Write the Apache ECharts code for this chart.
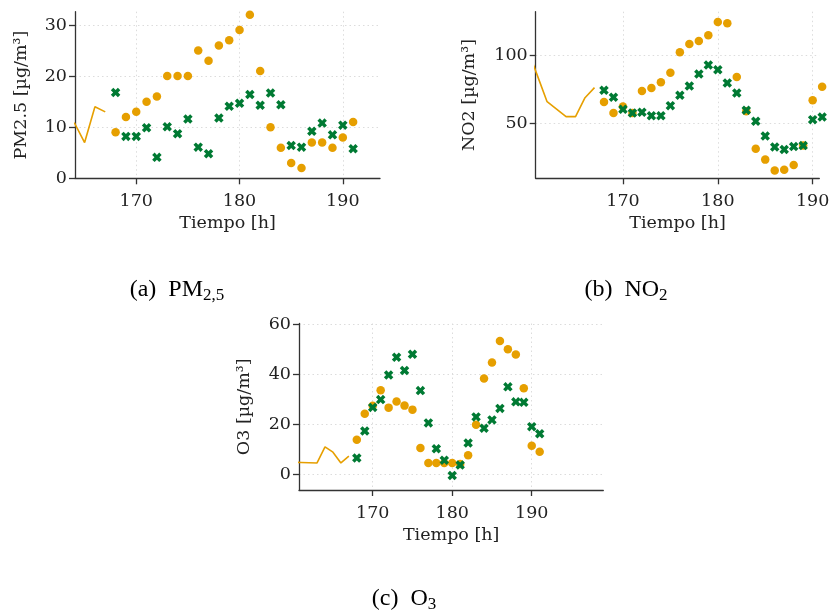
<!DOCTYPE html>
<html>
<head>
<meta charset="utf-8">
<script src="https://cdn.jsdelivr.net/npm/echarts@6/dist/echarts.min.js"></script>
<style>html,body{margin:0;padding:0;background:#fff;}#c{width:833px;height:611px;}</style>
</head>
<body>
<div id="c"></div>
<script>
// ---- Data ----
var hoursObs = [168,169,170,171,172,173,174,175,176,177,178,179,180,181,182,183,184,185,186,187,188,189,190,191];

// (a) PM2.5
var pmLineHours = [164,165,166,167];
var pmLine      = [10.9,7.0,14.0,13.0];
var pmOrange = [9,12,13,15,16,20,20,20,25,23,26,27,29,32,21,10,6,3,2,7,7,6,8,11];
var pmGreen  = [16.8,8.2,8.2,9.9,4.1,10.1,8.7,11.6,6.1,4.8,11.8,14.1,14.7,16.4,14.3,16.7,14.4,6.4,6.1,9.2,10.8,8.5,10.4,5.8];

// (b) NO2
var no2LineHours = [160,161,162,163,164,165,166,167];
var no2Line      = [103,84.6,66.0,60.6,55.1,55.1,68.9,76.2];
var no2Orange = [65.8,57.8,62.4,57.8,73.8,76.0,80.1,87.1,101.9,108.0,110.2,114.3,124.0,123.1,84.0,59.0,31.8,23.8,15.8,16.5,19.9,34.0,67.0,76.9];
var no2Green  = [74.3,69.2,60.4,57.8,58.3,55.8,55.8,63.1,70.6,77.4,86.2,92.7,89.3,79.6,72.3,59.7,51.7,41.0,33.0,31.1,33.3,34.0,52.9,54.9];

// (c) O3
var o3LineHours = [160,161,162,163,164,165,166,167];
var o3Line      = [4.8,4.7,4.6,4.5,10.9,8.8,4.5,7.2];
var o3Orange = [13.8,24.2,27.3,33.5,26.6,29.0,27.4,25.8,10.5,4.5,4.5,4.5,4.5,4.1,7.6,19.8,38.2,44.6,53.2,49.9,47.8,34.3,11.4,9.0];
var o3Green  = [6.5,17.3,26.7,29.8,39.6,46.7,41.4,47.9,33.4,20.5,10.2,5.6,-0.5,3.7,12.5,22.9,18.4,21.7,26.3,34.9,28.9,28.7,19.0,16.2];

var xTicks = [170,180,190];
var pmTicks = [0,10,20,30];
var no2Ticks = [50,100];
var o3Ticks = [0,20,40,60];

var xName = 'Tiempo [h]';
var yNames = ['PM2.5 [µg/m³]','NO2 [µg/m³]','O3 [µg/m³]'];

// ---- Styles ----
var ORANGE = '#E69F00';
var GREEN = '#007A33';
var FONT = 'DejaVu Serif';
var CROSS = 'path://M0,2.6 L2.6,0 L5,2.4 L7.4,0 L10,2.6 L7.6,5 L10,7.4 L7.4,10 L5,7.6 L2.6,10 L0,7.4 L2.4,5 Z';

function zip(xs, ys){ return xs.map(function(x,i){ return [x, ys[i]]; }); }

var grids = [
  {left:75, top:11.7, width:305, height:166.6},
  {left:535.7, top:11.7, width:283.6, height:166.6},
  {left:299, top:323.5, width:304.3, height:166.5}
];
var xRanges = [[164.07,193.6],[160.8,190.7],[160.73,199.0]];
var yRanges = [[0,32.6],[10.2,131.5],[-6.3,60.2]];
var yTicks = [pmTicks, no2Ticks, o3Ticks];
var yGaps = [45, 57, 46];

var axisLineStyle = {color:'#333', width:1.3};
var splitStyle = {show:true, lineStyle:{color:'#dcdcdc', type:[1.5,3], width:1}};

var xAxes = [], yAxes = [];
for (var i=0;i<3;i++){
  xAxes.push({
    type:'value', gridIndex:i, min:xRanges[i][0], max:xRanges[i][1],
    axisLine:{show:true, onZero:false, lineStyle:axisLineStyle},
    axisTick:{show:true, customValues:xTicks, length:6, lineStyle:axisLineStyle},
    axisLabel:{customValues:xTicks, margin:14, fontFamily:FONT, fontSize:17.5, color:'#222'},
    splitLine:splitStyle,
    name:xName, nameLocation:'middle', nameGap:36,
    nameTextStyle:{fontFamily:FONT, fontSize:17.5, color:'#222'}
  });
  yAxes.push({
    type:'value', gridIndex:i, min:yRanges[i][0], max:yRanges[i][1],
    axisLine:{show:true, onZero:false, lineStyle:axisLineStyle},
    axisTick:{show:true, customValues:yTicks[i], length:6, lineStyle:axisLineStyle},
    axisLabel:{customValues:yTicks[i], margin:8, fontFamily:FONT, fontSize:17.5, color:'#222'},
    splitLine:splitStyle,
    name:yNames[i], nameLocation:'middle', nameGap:yGaps[i],
    nameTextStyle:{fontFamily:FONT, fontSize:17.5, color:'#222'}
  });
}

var lines = [zip(pmLineHours,pmLine), zip(no2LineHours,no2Line), zip(o3LineHours,o3Line)];
var oranges = [zip(hoursObs,pmOrange), zip(hoursObs,no2Orange), zip(hoursObs,o3Orange)];
var greens = [zip(hoursObs,pmGreen), zip(hoursObs,no2Green), zip(hoursObs,o3Green)];

var series = [];
for (var i=0;i<3;i++){
  series.push({type:'line', xAxisIndex:i, yAxisIndex:i, data:lines[i], showSymbol:false, clip:true,
    lineStyle:{color:ORANGE, width:1.6}, silent:true, animation:false, z:2});
  series.push({type:'scatter', xAxisIndex:i, yAxisIndex:i, data:oranges[i], symbol:'circle', symbolSize:8.5,
    clip:false, itemStyle:{color:ORANGE, opacity:1}, animation:false, z:3});
  series.push({type:'scatter', xAxisIndex:i, yAxisIndex:i, data:greens[i], symbol:CROSS, symbolSize:9.5,
    clip:false, itemStyle:{color:GREEN, opacity:1}, animation:false, z:4});
}

var capRich = {
  m:{fontFamily:'Liberation Serif', fontSize:24, color:'#222', lineHeight:29, verticalAlign:'middle'},
  s:{fontFamily:'Liberation Serif', fontSize:17, color:'#222', lineHeight:29, verticalAlign:'bottom'}
};
function caption(x, y, label, main, sub){
  return {type:'text', x:x, y:y, style:{
    text:'{m|' + label + '  ' + main + '}{s|' + sub + '}', rich:capRich,
    textAlign:'center', textVerticalAlign:'middle'}};
}

var option = {
  animation:false,
  backgroundColor:'#fff',
  grid: grids.map(function(g){ return Object.assign({containLabel:false, outerBoundsMode:'none'}, g); }),
  xAxis: xAxes,
  yAxis: yAxes,
  series: series,
  graphic: [
    caption(177, 290, '(a)', 'PM', '2,5'),
    caption(626, 290, '(b)', 'NO', '2'),
    caption(404, 599, '(c)', 'O', '3')
  ]
};
var chart = echarts.init(document.getElementById('c'), null, {renderer:'canvas'});
chart.setOption(option);
</script>
</body>
</html>
